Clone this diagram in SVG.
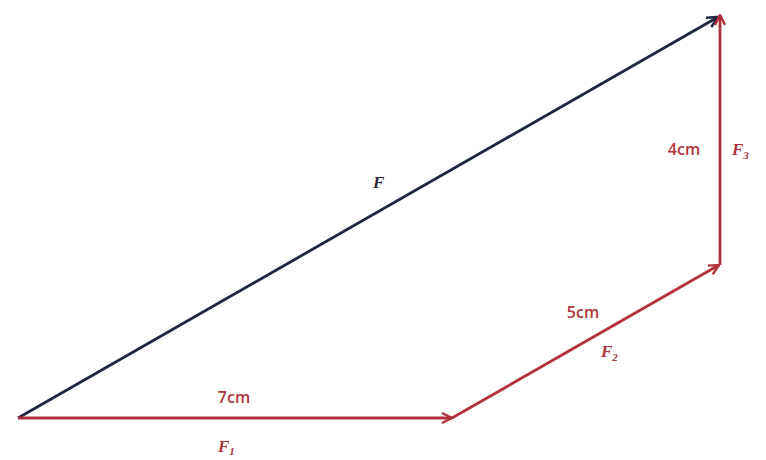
<svg xmlns="http://www.w3.org/2000/svg" width="766" height="460" viewBox="0 0 766 460">
<style>
.red{stroke:#b1313c;stroke-width:2.8;fill:none}
.navy{stroke:#1e2742;stroke-width:2.8;fill:none}
.lbl{font-family:"Open Sans","Liberation Sans",sans-serif;font-size:16px;font-weight:600;fill:#b0353c}
.var{font-family:"Liberation Serif",serif;font-style:italic;font-weight:bold;font-size:17px;fill:#a8343c}
.sub{font-size:11px}
</style>
<defs>
<marker id="ar" viewBox="0 0 12 12" refX="11" refY="6" markerWidth="12" markerHeight="12" markerUnits="userSpaceOnUse" orient="auto">
<path d="M1,1 L11,6 L1,11" fill="none" stroke="#b1313c" stroke-width="2.4"/>
</marker>
<marker id="an" viewBox="0 0 12 12" refX="11" refY="6" markerWidth="13" markerHeight="13" markerUnits="userSpaceOnUse" orient="auto">
<path d="M1,1 L11,6 L1,11" fill="none" stroke="#1e2742" stroke-width="2.4"/>
</marker>
</defs>
<rect width="766" height="460" fill="#ffffff"/>
<g id="connectors">
<line id="F" class="navy" x1="18" y1="418" x2="718" y2="17" marker-end="url(#an)"/>
<line id="F1" class="red" x1="18" y1="418" x2="452" y2="418" marker-end="url(#ar)"/>
<line id="F2" class="red" x1="452" y1="418" x2="719" y2="265" marker-end="url(#ar)"/>
<line id="F3" class="red" x1="720" y1="265" x2="720" y2="15" marker-end="url(#ar)"/>
</g>
<g id="labels">
<text class="lbl" x="234" y="403" text-anchor="middle">7cm</text>
<text class="var" x="218" y="452">F<tspan class="sub" dy="3">1</tspan></text>
<text class="lbl" x="583" y="318" text-anchor="middle">5cm</text>
<text class="var" x="601" y="357">F<tspan class="sub" dy="4">2</tspan></text>
<text class="lbl" x="684" y="155" text-anchor="middle">4cm</text>
<text class="var" x="732" y="155">F<tspan class="sub" dy="4">3</tspan></text>
<text class="var" x="373" y="188" style="fill:#2a2a35">F</text>
</g>
</svg>
